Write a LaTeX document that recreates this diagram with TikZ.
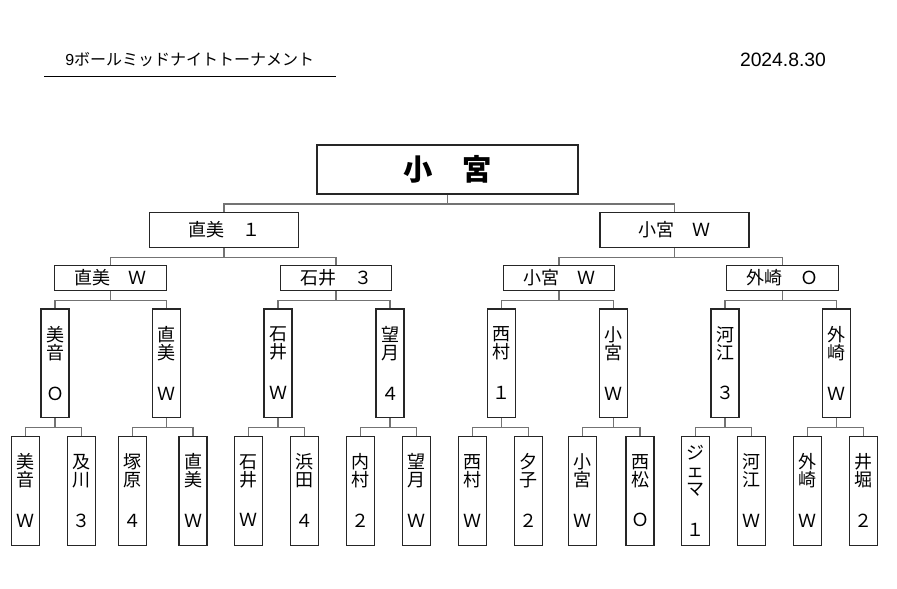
\documentclass[tikz,border=0pt]{standalone}
\usepackage{fontspec}
\setmainfont{Liberation Sans}
\newfontfamily\jp{Noto Sans CJK JP}
\begin{document}
\begin{tikzpicture}[x=0.75pt, y=-0.75pt,
  box/.style={draw=black!85, line width=0.8pt, fill=white, inner sep=0pt, align=center,
    font=\jp\fontsize{13.5pt}{13.5pt}\selectfont},
  hbox/.style={box, minimum width=#1, minimum height=18.5pt},
  vbox/.style={box, minimum width=21pt, minimum height=#1},
  link/.style={draw=black!55, line width=1.1pt}]
\useasboundingbox (0,0) rectangle (897,589);
% header
\node[anchor=west, inner sep=0pt] (title) at (65,60)
  {\fontsize{12pt}{12pt}\selectfont 9\jp ボールミッドナイトトーナメント};
\draw[line width=1pt] (44,76.7) -- (336,76.7);
\node[inner sep=0pt] (date) at (783,60) {\fontsize{14.5pt}{14.5pt}\selectfont 2024.8.30};
% final
\node[box, minimum width=195.75pt, minimum height=36.75pt,
  font=\jp\bfseries\fontsize{22pt}{22pt}\selectfont] (tid0) at (447.5,169.5) {小　宮};
% semis
\node[hbox=111.75pt, minimum height=25.9pt] (tid1) at (224,230) {直美　１};
\node[hbox=111.75pt, minimum height=25.9pt] (tid2) at (674.5,230) {小宮　Ｗ};
% quarters
\node[hbox=83.6pt] (tid3) at (110.5,278) {直美　Ｗ};
\node[hbox=83.6pt] (tid4) at (336,278) {石井　３};
\node[hbox=83.6pt] (tid5) at (559,278) {小宮　Ｗ};
\node[hbox=83.6pt] (tid6) at (782.5,278) {外崎　Ｏ};
% round 2
\node[vbox=81.5pt] (tid7) at (55,363.3) {美\\音\\[17pt]Ｏ};
\node[vbox=81.5pt] (tid8) at (166.7,363.3) {直\\美\\[17pt]Ｗ};
\node[vbox=81.5pt] (tid9) at (278,363.3) {石\\井\\[17pt]Ｗ};
\node[vbox=81.5pt] (tid10) at (390,363.3) {望\\月\\[17pt]４};
\node[vbox=81.5pt] (tid11) at (501.7,363.3) {西\\村\\[17pt]１};
\node[vbox=81.5pt] (tid12) at (613.7,363.3) {小\\宮\\[17pt]Ｗ};
\node[vbox=81.5pt] (tid13) at (725,363.3) {河\\江\\[17pt]３};
\node[vbox=81.5pt] (tid14) at (836.7,363.3) {外\\崎\\[17pt]Ｗ};
% round 1
\node[vbox=82pt] (tid15) at (25.5,490.7) {美\\音\\[17pt]Ｗ};
\node[vbox=82pt] (tid16) at (81.3,490.7) {及\\川\\[17pt]３};
\node[vbox=82pt] (tid17) at (132.3,490.7) {塚\\原\\[17pt]４};
\node[vbox=82pt] (tid18) at (193,490.7) {直\\美\\[17pt]Ｗ};
\node[vbox=82pt] (tid19) at (248.7,490.7) {石\\井\\[17pt]Ｗ};
\node[vbox=82pt] (tid20) at (304.3,490.7) {浜\\田\\[17pt]４};
\node[vbox=82pt] (tid21) at (360.3,490.7) {内\\村\\[17pt]２};
\node[vbox=82pt] (tid22) at (416.3,490.7) {望\\月\\[17pt]Ｗ};
\node[vbox=82pt] (tid23) at (472.3,490.7) {西\\村\\[17pt]Ｗ};
\node[vbox=82pt] (tid24) at (528.3,490.7) {夕\\子\\[17pt]２};
\node[vbox=82pt] (tid25) at (582.7,490.7) {小\\宮\\[17pt]Ｗ};
\node[vbox=82pt] (tid26) at (640,490.7) {西\\松\\[17pt]Ｏ};
\node[vbox=82pt] (tid27) at (695.3,490.7) {ジ\\ェ\\マ\\[17pt]１};
\node[vbox=82pt] (tid28) at (751.7,490.7) {河\\江\\[17pt]Ｗ};
\node[vbox=82pt] (tid29) at (807.3,490.7) {外\\崎\\[17pt]Ｗ};
\node[vbox=82pt] (tid30) at (863.3,490.7) {井\\堀\\[17pt]２};
% links
\foreach \p in {0,...,14}{
  \pgfmathtruncatemacro{\a}{2*\p+1}
  \pgfmathtruncatemacro{\b}{2*\p+2}
  \draw[link] (tid\p.south) -- ++(0,9.5) coordinate (mid\p);
  \draw[link] (mid\p) -| (tid\a.north);
  \draw[link] (mid\p) -| (tid\b.north);
}
\end{tikzpicture}
\end{document}
